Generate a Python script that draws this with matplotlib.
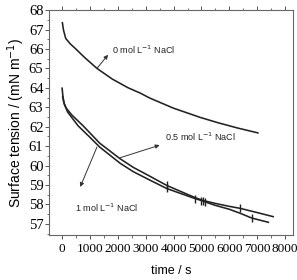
import numpy as np
import matplotlib
matplotlib.use("Agg")
import matplotlib.pyplot as plt
from matplotlib.ticker import MultipleLocator

# Data (time in s, surface tension in mN/m)
t0 = [10, 50, 130, 300, 470, 800, 1250, 1800, 2370, 2800, 3150, 4000, 4950, 5600, 6300, 7025]
g0 = [67.35, 66.97, 66.54, 66.25, 66.03, 65.57, 65.0, 64.45, 64.0, 63.73, 63.47, 62.95, 62.48, 62.2, 61.93, 61.68]

t05 = [20, 60, 150, 350, 750, 1350, 2080, 2560, 3150, 3750, 4770, 5065, 5500, 6000, 6380, 7000, 7575]
g05 = [63.55, 63.25, 62.95, 62.6, 62.05, 61.15, 60.35, 59.9, 59.45, 58.98, 58.35, 58.2, 58.05, 57.9, 57.8, 57.58, 57.37]

t1 = [0, 30, 80, 200, 570, 1000, 1350, 2080, 2560, 3150, 3750, 4770, 5000, 5130, 5500, 6000, 6380, 6800, 7400]
g1 = [63.98, 63.55, 63.15, 62.75, 62.05, 61.45, 60.95, 60.12, 59.68, 59.25, 58.82, 58.3, 58.2, 58.13, 57.95, 57.75, 57.55, 57.3, 57.08]

mk05 = [9, 11, 14]
mk1 = [10, 11, 12, 13, 17]

fig = plt.figure(figsize=(2.97, 2.80), dpi=100)
ax = fig.add_axes([0.165, 0.161, 0.822, 0.803])

lc = "#222222"
ax.plot(t0, g0, color=lc, lw=1.15)
ax.plot(t05, g05, color=lc, lw=1.15, marker="|", markevery=mk05, ms=6, mew=1.0)
ax.plot(t1, g1, color=lc, lw=1.15, marker="|", markevery=mk1, ms=6, mew=1.0)

ax.set_xlim(-470, 8290)
ax.set_ylim(56.43, 68)
ax.xaxis.set_major_locator(MultipleLocator(1000))
ax.xaxis.set_minor_locator(MultipleLocator(500))
ax.yaxis.set_major_locator(MultipleLocator(1))
ax.yaxis.set_minor_locator(MultipleLocator(0.5))

ax.tick_params(axis="both", which="major", direction="out", length=3, width=0.7, color="#555555")
ax.tick_params(axis="both", which="minor", direction="out", length=1.8, width=0.6, color="#555555")
ax.tick_params(axis="x", which="both", top=True)
ax.tick_params(axis="x", which="major", labelsize=9.5, pad=3)
ax.tick_params(axis="y", which="major", labelsize=10.5, pad=1)
for lab in ax.get_xticklabels() + ax.get_yticklabels():
    lab.set_family("Liberation Serif")
for s in ax.spines.values():
    s.set_color("#666666")
    s.set_linewidth(0.8)

ax.set_xlabel("time / s", family="Liberation Sans", fontsize=9, labelpad=7)
ax.set_ylabel("Surface tension / (mN m$^{-1}$)", family="Liberation Sans", fontsize=10, labelpad=1)

tf = dict(family="Liberation Sans", fontsize=6.5, color="#222222")
ap = dict(arrowstyle="-|>", color="#333333", lw=0.7, mutation_scale=6, shrinkA=0, shrinkB=0)
ax.annotate("", xy=(1650, 65.7), xytext=(1250, 65.0), arrowprops=ap)
ax.text(1800, 65.98, "0 mol L$^{-1}$ NaCl", va="center", ha="left", **tf)
ax.annotate("", xy=(3500, 61.05), xytext=(2080, 60.4), arrowprops=ap)
ax.text(3700, 61.5, "0.5 mol L$^{-1}$ NaCl", va="center", ha="left", **tf)
ax.annotate("", xy=(650, 58.9), xytext=(1250, 60.95), arrowprops=ap)
ax.text(450, 57.85, "1 mol L$^{-1}$ NaCl", va="center", ha="left", **tf)

fig.savefig("out.png", dpi=100)
